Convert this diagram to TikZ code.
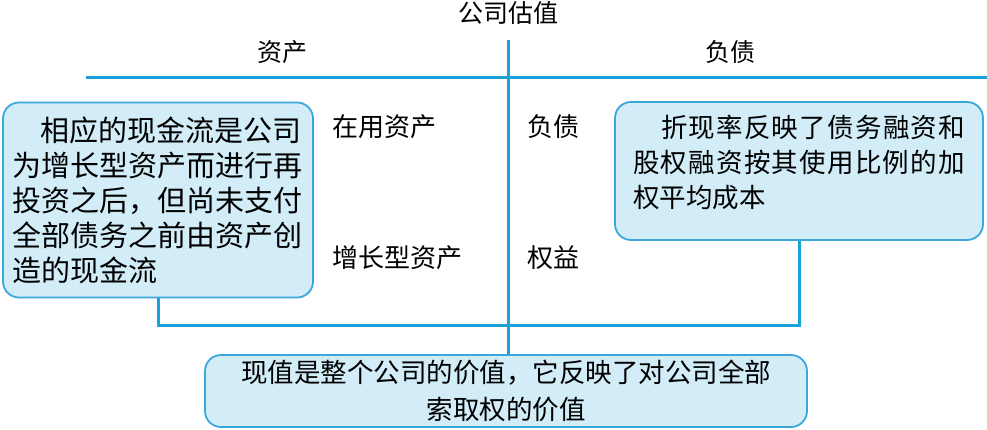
\documentclass[tikz,border=0pt]{standalone}
\usepackage{fontspec}
\setmainfont{Noto Sans CJK SC}
\usetikzlibrary{positioning}
\definecolor{linkblue}{HTML}{1BA1DB}
\definecolor{boxline}{HTML}{3AA8DA}
\definecolor{boxfill}{HTML}{D2EDF8}

\begin{document}
\begin{tikzpicture}[x=1pt,y=-1pt,
  rule/.style={draw=linkblue, line width=3pt},
  note/.style={draw=boxline, fill=boxfill, line width=1.8pt, rounded corners=16pt,
    inner sep=0pt, align=left},
  lbl/.style={inner sep=0pt, anchor=west, font=\fontsize{26}{30}\selectfont},
  head/.style={inner sep=0pt, font=\fontsize{25}{30}\selectfont}]
  \useasboundingbox (0,0) rectangle (987,429);
  % headings and the two rules
  \node[head] (title) at (508,13) {公司估值};
  \node[head] (assets) at (282,52) {资产};
  \node[head] (claims) at (730,52) {负债};
  \coordinate (hl) at (86,77);
  \coordinate (hr) at (987,77);
  \coordinate (top) at (508,40);
  \draw[rule] (hl) -- (hr);
  % balance sheet entries
  \foreach \n/\x/\y/\t in {inuse/332/127/在用资产, growth/332/258/增长型资产,
                           debt/527/127/负债, equity/527/258/权益}
    \node[lbl] (\n) at (\x,\y) {\t};
  % notes
  \node[note, text width=291pt, minimum width=310pt, minimum height=195pt,
        font=\fontsize{29}{35}\selectfont] (cashflow) at (158,200)
    {\hspace*{28pt}相应的现金流是公司\\为增长型资产而进行再\\投资之后，但尚未支付\\
     全部债务之前由资产创\\造的现金流};
  \node[note, text width=332pt, minimum width=368pt, minimum height=138pt,
        font=\fontsize{26.5}{35}\selectfont] (wacc) at (799,171)
    {\hspace*{28pt}\makebox[304pt][s]{折\hfil 现\hfil 率\hfil 反\hfil 映\hfil 了\hfil
     债\hfil 务\hfil 融\hfil 资\hfil 和}\\\makebox[332pt][s]{股\hfil 权\hfil 融\hfil
     资\hfil 按\hfil 其\hfil 使\hfil 用\hfil 比\hfil 例\hfil 的\hfil 加}\\权平均成本
     \par\nointerlineskip\vbox to 18pt{}};
  \node[note, align=center, minimum width=602pt, minimum height=72pt,
        font=\fontsize{26.5}{37}\selectfont] (pv) at (506,391)
    {现值是整个公司的价值，它反映了对公司全部\\索取权的价值};
  % connectors
  \coordinate (joint) at (508,325);
  \draw[rule] (cashflow.south) |- (joint) -| (wacc.south);
  \draw[rule] (top) -- (top |- pv.north);
\end{tikzpicture}
\end{document}
